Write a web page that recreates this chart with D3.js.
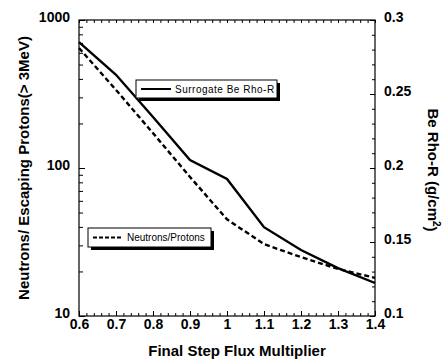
<!DOCTYPE html>
<html>
<head>
<meta charset="utf-8">
<script src="https://cdn.jsdelivr.net/npm/d3@7"></script>
<style>
  body { margin: 0; background: #fff; }
  text { font-family: "Liberation Sans", Arial, sans-serif; fill: #000; }
</style>
</head>
<body>
<svg id="chart" width="443" height="362"></svg>
<script>
// flux multiplier steps on the x axis
const flux = [0.6, 0.7, 0.8, 0.9, 1.0, 1.1, 1.2, 1.3, 1.4]
// surrogate Be rho-R, right axis (g/cm^2)
const rhoR = [0.285, 0.263, 0.2345, 0.2054, 0.1926, 0.160, 0.1446, 0.1324, 0.1223]
// neutrons / escaping protons, left log axis
const ratio = [647, 337, 172, 87, 45, 30.6, 25, 20.8, 18.1]

const xTicks = [0.6, 0.7, 0.8, 0.9, 1, 1.1, 1.2, 1.3, 1.4]
const leftTicks = [10, 100, 1000]
const rightTicks = [0.1, 0.15, 0.2, 0.25, 0.3]

const svg = d3.select('#chart')
const m = { left: 79, right: 375, top: 20, bottom: 316 }

const x = d3.scaleLinear().domain([0.6, 1.4]).range([m.left, m.right])
const yL = d3.scaleLog().domain([10, 1000]).range([m.bottom, m.top])
const yR = d3.scaleLinear().domain([0.1, 0.3]).range([m.bottom, m.top])

const minorX = d3.range(0.6, 1.4001, 0.02)
const minorL = []
for (const dec of [10, 100]) {
  for (let k = 2; k <= 9; k++) minorL.push(dec * k)
}
const minorR = d3.range(0.1, 0.3001, 0.01)

const tickFont = g => g.selectAll('text')
  .style('font-size', '14px').style('font-weight', 'bold')

// frame
svg.append('rect')
  .attr('x', m.left).attr('y', m.top)
  .attr('width', m.right - m.left).attr('height', m.bottom - m.top)
  .attr('fill', 'none').attr('stroke', '#000').attr('stroke-width', 1.2)

// minor ticks, all pointing inward
const minorAxis = (axis, tr) => svg.append('g')
  .attr('transform', tr)
  .call(axis.tickFormat('').tickSizeOuter(0))
  .call(g => g.select('.domain').remove())
  .call(g => g.selectAll('line').attr('stroke-width', 1))

minorAxis(d3.axisBottom(x).tickValues(minorX).tickSize(-3), `translate(0,${m.bottom})`)
minorAxis(d3.axisTop(x).tickValues(minorX).tickSize(-3), `translate(0,${m.top})`)
minorAxis(d3.axisLeft(yL).tickValues(minorL).tickSize(-4), `translate(${m.left},0)`)
minorAxis(d3.axisRight(yR).tickValues(minorR).tickSize(-3), `translate(${m.right},0)`)

// major ticks + labels
svg.append('g')
  .attr('transform', `translate(0,${m.bottom})`)
  .call(d3.axisBottom(x).tickValues(xTicks).tickSize(-5).tickSizeOuter(0).tickPadding(3)
    .tickFormat(d => d === 1 ? '1' : d3.format('.1f')(d)))
  .call(g => g.select('.domain').remove())
  .call(tickFont)

svg.append('g')
  .attr('transform', `translate(${m.left},0)`)
  .call(d3.axisLeft(yL).tickValues(leftTicks).tickSize(-6).tickSizeOuter(0).tickPadding(9)
    .tickFormat(d3.format('d')))
  .call(g => g.select('.domain').remove())
  .call(tickFont)
  .call(g => g.selectAll('text').attr('dy', '0.1em'))

svg.append('g')
  .attr('transform', `translate(${m.right},0)`)
  .call(d3.axisRight(yR).tickValues(rightTicks).tickSize(-5).tickSizeOuter(0).tickPadding(9)
    .tickFormat(d => String(+d.toFixed(2))))
  .call(g => g.select('.domain').remove())
  .call(tickFont)
  .call(g => g.selectAll('text').attr('dy', '0.1em'))

// data lines
const lineR = d3.line().x((d, i) => x(flux[i])).y(d => yR(d))
const lineL = d3.line().x((d, i) => x(flux[i])).y(d => yL(d))

svg.append('path').datum(ratio)
  .attr('d', lineL)
  .attr('fill', 'none').attr('stroke', '#000').attr('stroke-width', 2.4)
  .attr('stroke-dasharray', '5,3')

svg.append('path').datum(rhoR)
  .attr('d', lineR)
  .attr('fill', 'none').attr('stroke', '#000').attr('stroke-width', 2.4)

// legends with drop shadow
const legend = (lx, ly, w, h, label, dash, spacing) => {
  const g = svg.append('g').attr('transform', `translate(${lx},${ly})`)
  g.append('rect').attr('x', 3).attr('y', 3).attr('width', w).attr('height', h).attr('fill', '#000')
  g.append('rect').attr('width', w).attr('height', h)
    .attr('fill', '#fff').attr('stroke', '#000').attr('stroke-width', 1)
  g.append('line').attr('x1', 5).attr('x2', 35).attr('y1', h / 2).attr('y2', h / 2)
    .attr('stroke', '#000').attr('stroke-width', 2)
    .attr('stroke-dasharray', dash ? '4,2' : null)
  g.append('text').attr('x', 39).attr('y', h / 2).attr('dy', '0.35em')
    .style('font-size', '10px').style('letter-spacing', spacing).text(label)
}
legend(136, 80, 141, 18, 'Surrogate Be Rho-R', false, '0.5px')
legend(88, 228, 123, 19, 'Neutrons/Protons', true, '0px')

// axis titles
svg.append('text')
  .attr('x', (m.left + m.right) / 2 + 10).attr('y', 356)
  .attr('text-anchor', 'middle')
  .style('font-size', '15px').style('font-weight', 'bold')
  .text('Final Step Flux Multiplier')

svg.append('text')
  .attr('transform', 'translate(29,168) rotate(-90)')
  .attr('text-anchor', 'middle')
  .style('font-size', '15px').style('font-weight', 'bold')
  .text('Neutrons/ Escaping Protons(> 3MeV)')

const rt = svg.append('text')
  .attr('transform', 'translate(428,170) rotate(90)')
  .attr('text-anchor', 'middle')
  .style('font-size', '15px').style('font-weight', 'bold')
rt.append('tspan').text('Be Rho-R (g/cm')
rt.append('tspan').attr('dy', '-0.45em').style('font-size', '10px').text('2')
rt.append('tspan').attr('dy', '0.45em').text(')')
</script>
</body>
</html>
